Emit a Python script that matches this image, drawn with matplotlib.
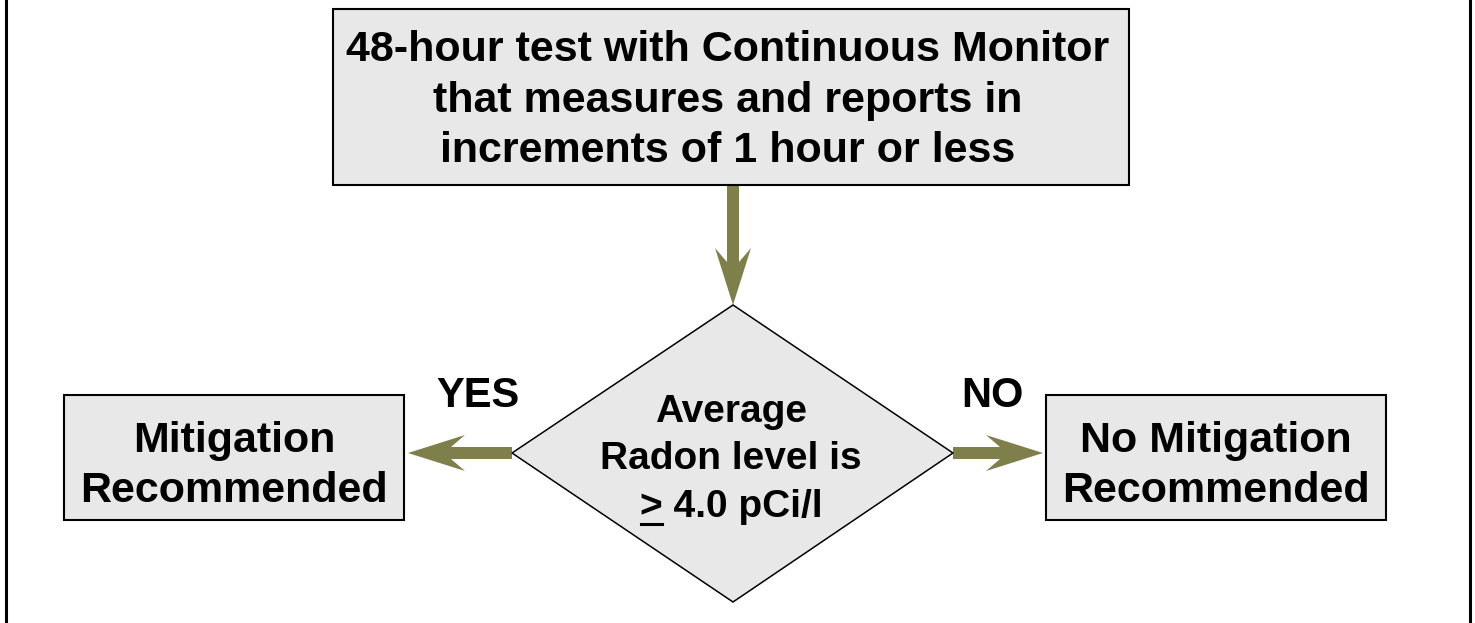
import matplotlib as mpl
mpl.use('Agg')
import matplotlib.pyplot as plt
from matplotlib.patches import Rectangle, Polygon

plt.rcParams['font.family'] = ['Liberation Sans', 'DejaVu Sans']

# texts of the flowchart
top_lines = ['48-hour test with Continuous Monitor',
             'that measures and reports in',
             'increments of 1 hour or less']
left_lines = ['Mitigation', 'Recommended']
right_lines = ['No Mitigation', 'Recommended']
diamond_lines = ['Average', 'Radon level is', '> 4.0 pCi/l']
branch_labels = ['YES', 'NO']

box_fill = '#e8e8e8'
arrow_col = '#7f7f4c'


def arrow(ax, x0, y0, x1, y1, shaft=12, head_w=36, head_l=57, notch=14):
    # swallow-tail arrow from (x0, y0) to tip (x1, y1), pixel coords
    import numpy as np
    d = np.array([x1 - x0, y1 - y0], dtype=float)
    L = np.hypot(*d)
    u = d / L
    n = np.array([-u[1], u[0]])
    p0 = np.array([x0, y0], dtype=float)
    back = L - head_l
    pts = [p0 + n * shaft / 2,
           p0 + u * (back + notch) + n * shaft / 2,
           p0 + u * back + n * head_w / 2,
           p0 + u * L,
           p0 + u * back - n * head_w / 2,
           p0 + u * (back + notch) - n * shaft / 2,
           p0 - n * shaft / 2]
    ax.add_patch(Polygon(pts, closed=True, facecolor=arrow_col,
                         edgecolor='none', zorder=1))


fig = plt.figure(figsize=(14.75, 6.23), dpi=100)
ax = fig.add_axes([0, 0, 1, 1])
ax.set_xlim(0, 1475)
ax.set_ylim(623, 0)
ax.axis('off')

# side borders
ax.plot([6, 6], [0, 623], color='black', lw=2.2)
ax.plot([1470, 1470], [0, 623], color='black', lw=2.2)

# boxes
ax.add_patch(Rectangle((333, 9), 796, 176, facecolor=box_fill,
                       edgecolor='black', lw=1.5, zorder=2))
ax.add_patch(Rectangle((64, 395), 340, 125, facecolor=box_fill,
                       edgecolor='black', lw=1.5, zorder=2))
ax.add_patch(Rectangle((1046, 395), 340, 125, facecolor=box_fill,
                       edgecolor='black', lw=1.5, zorder=2))
ax.add_patch(Polygon([(733, 305), (953, 453), (733, 602), (512, 453)],
                     closed=True, facecolor=box_fill, edgecolor='black',
                     lw=1.1, zorder=2))

# arrows
arrow(ax, 733, 185, 733, 305)
arrow(ax, 512, 453, 408, 453)
arrow(ax, 953, 453, 1043, 453)

fs_box = 31
fs_dia = 28
for txt, yb in zip(top_lines, [61, 112, 162]):
    ax.text(728, yb, txt, ha='center', va='baseline', fontsize=fs_box,
            fontweight='bold', zorder=3)
for txt, yb in zip(left_lines, [452, 502]):
    ax.text(234, yb, txt, ha='center', va='baseline', fontsize=fs_box,
            fontweight='bold', zorder=3)
for txt, yb in zip(right_lines, [452, 502]):
    ax.text(1216, yb, txt, ha='center', va='baseline', fontsize=fs_box,
            fontweight='bold', zorder=3)
for txt, yb in zip(diamond_lines, [422, 469, 517]):
    ax.text(731, yb, txt, ha='center', va='baseline', fontsize=fs_dia,
            fontweight='bold', zorder=3)
# underline of the ">" sign
ax.plot([641, 662], [524, 524], color='black', lw=2.2, zorder=3)

ax.text(478, 407, branch_labels[0], ha='center', va='baseline',
        fontsize=30, fontweight='bold')
ax.text(992, 407, branch_labels[1], ha='center', va='baseline',
        fontsize=30, fontweight='bold')

fig.savefig('out.png', dpi=100)
